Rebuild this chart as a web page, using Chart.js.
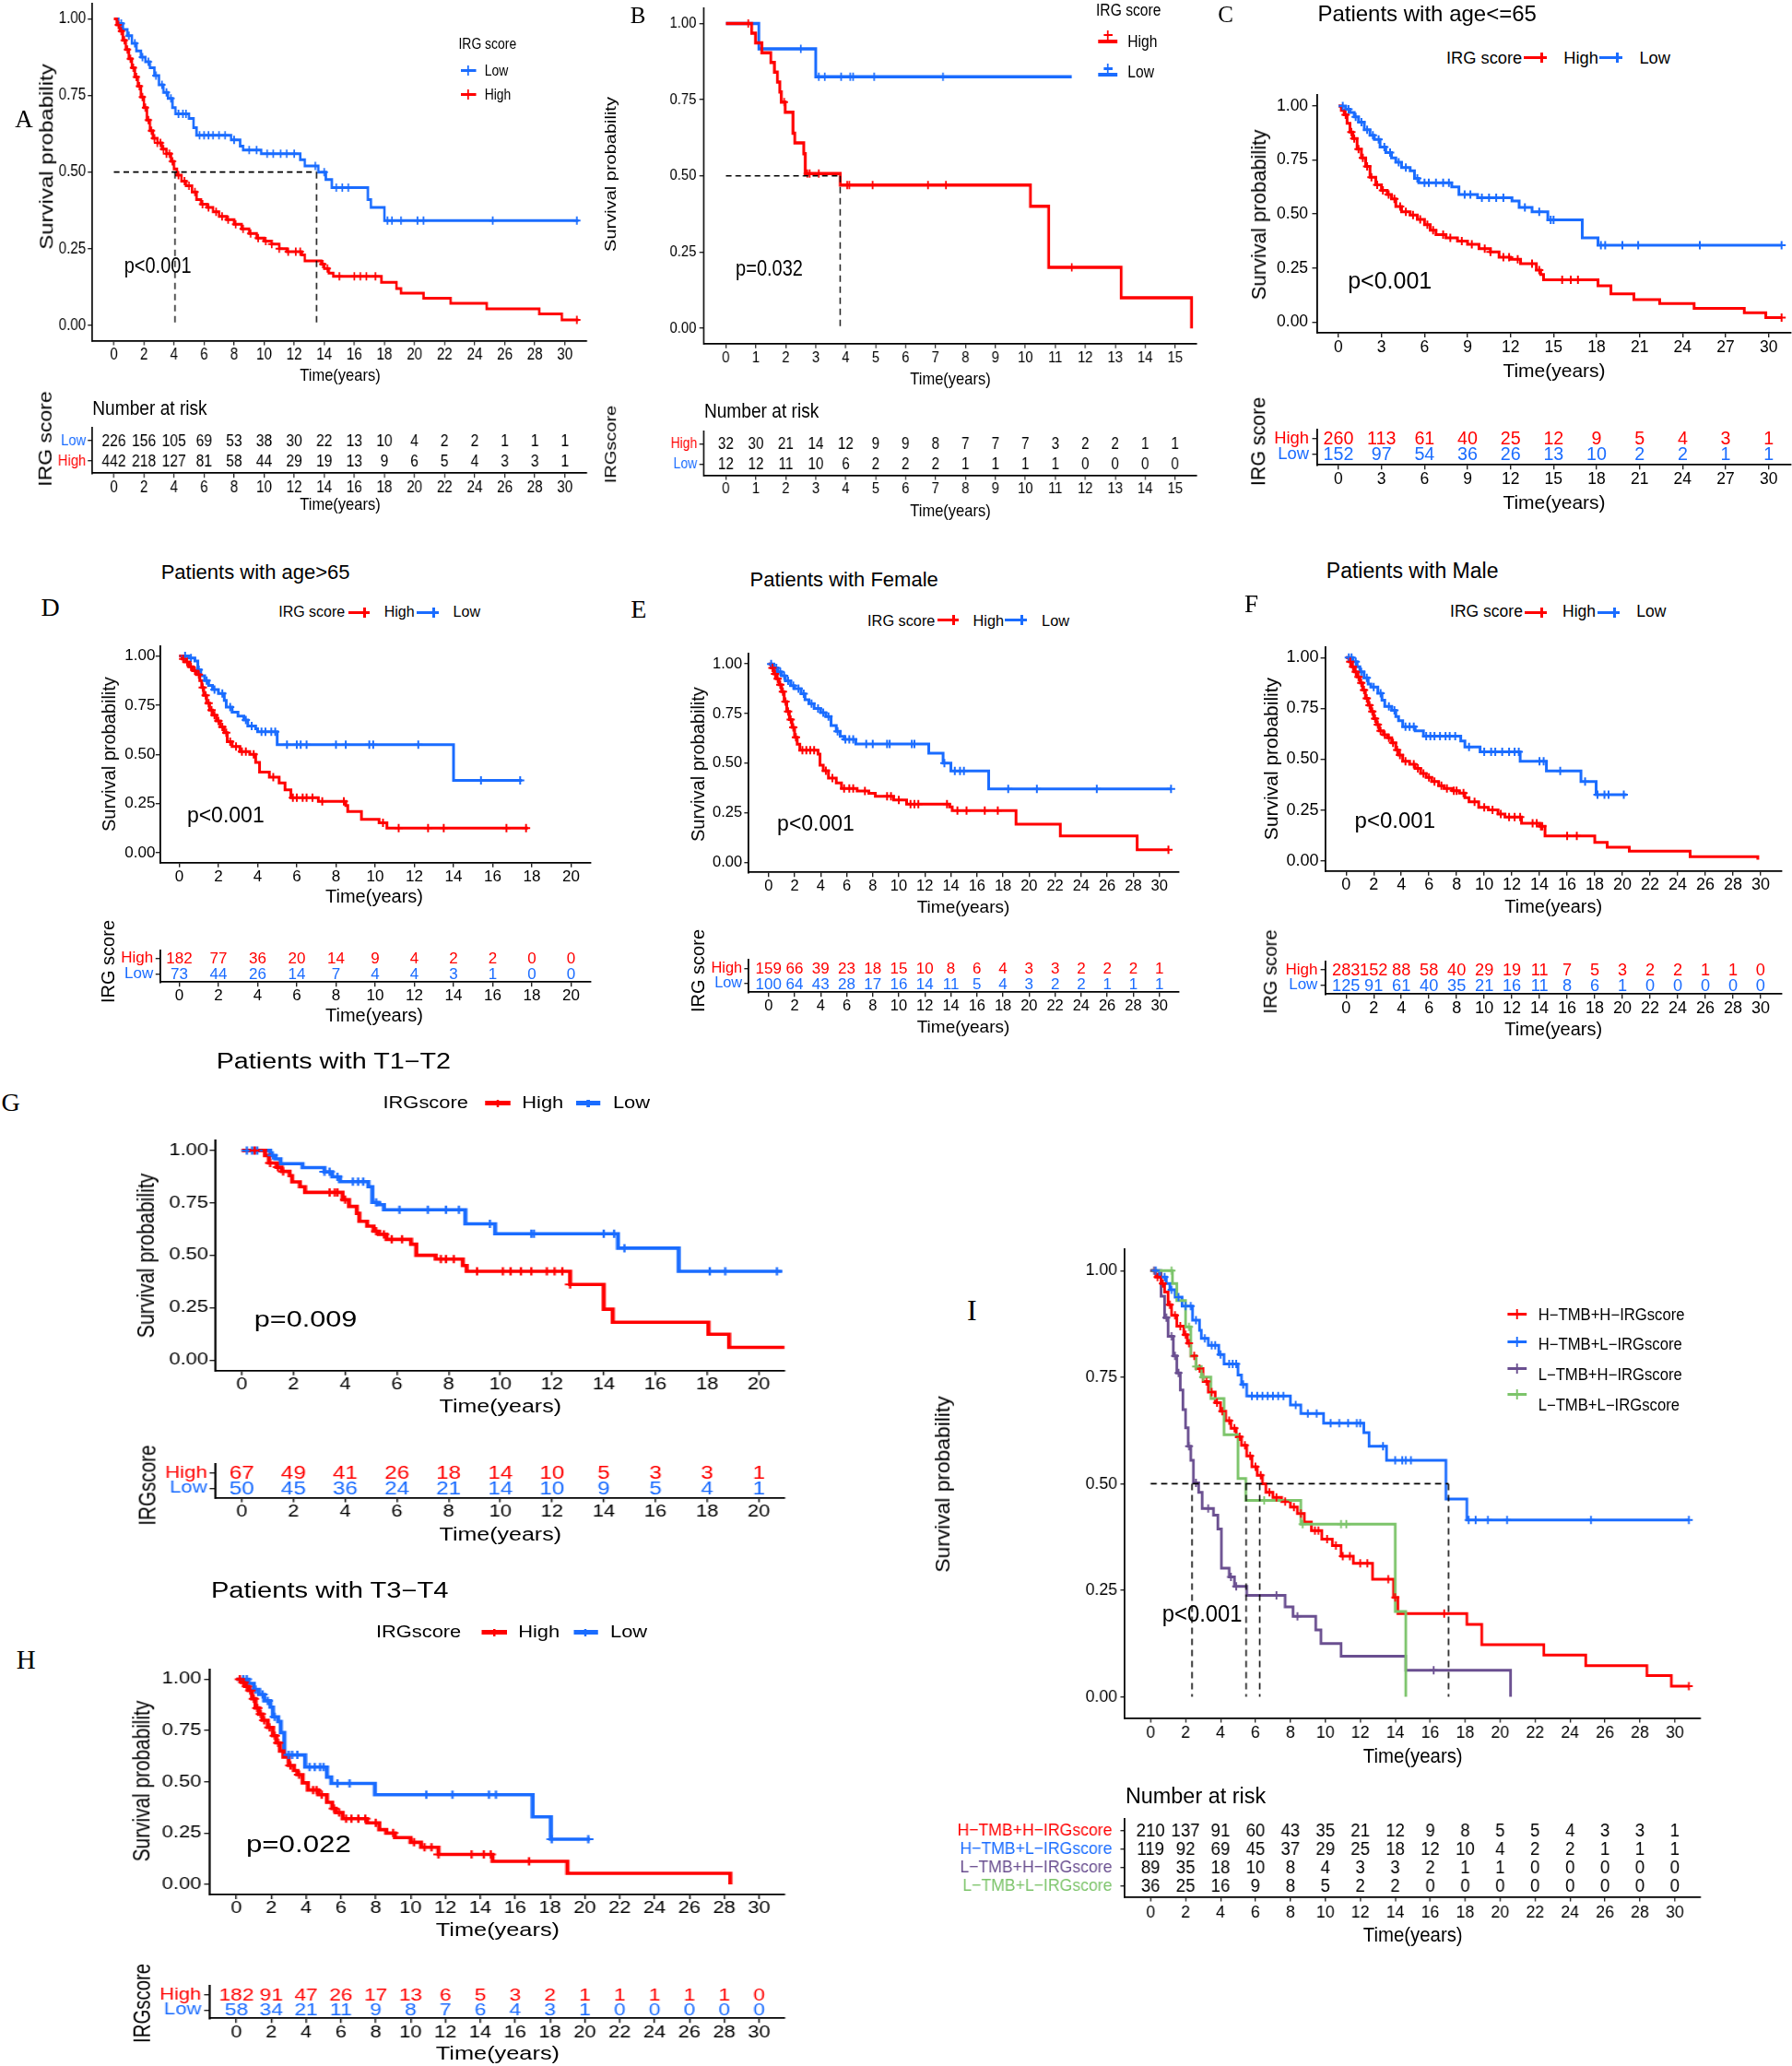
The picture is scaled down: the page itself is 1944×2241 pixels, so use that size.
<!DOCTYPE html>
<html><head><meta charset="utf-8">
<script src="https://cdn.jsdelivr.net/npm/chart.js@4.4.1/dist/chart.umd.min.js"></script>
<style>
html,body{margin:0;padding:0;background:#fff;}
body{width:1944px;height:2241px;position:relative;overflow:hidden;font-family:'Liberation Sans',Arial,sans-serif;}
.panel{position:absolute;top:0;width:1px;height:1px;transform-origin:0 0;}
.abs{position:absolute;white-space:nowrap;line-height:1;}
canvas{position:absolute;}
.bar{position:absolute;}
</style></head><body>
<script>
// ---------------- colours / fonts ----------------
const RED='#ff0000', BLUE='#1a6cff', PURPLE='#6a4f90', GREEN='#7cc46a';
const FONT="'Liberation Sans', Arial, sans-serif";
const SERIF="'Liberation Serif', 'Times New Roman', serif";

// ---------------- tick labels ----------------
const yTicks=[0,0.25,0.5,0.75,1];
const tk30by2=[0,2,4,6,8,10,12,14,16,18,20,22,24,26,28,30];
const tk15=[0,1,2,3,4,5,6,7,8,9,10,11,12,13,14,15];
const tk30by3=[0,3,6,9,12,15,18,21,24,27,30];
const tk20by2=[0,2,4,6,8,10,12,14,16,18,20];

// ---------------- Panel A ----------------
const kmA_high=[[0,1],[0.2,0.98],[0.4,0.96],[0.6,0.93],[0.8,0.9],[1.0,0.87],[1.2,0.84],[1.4,0.81],[1.6,0.78],[1.8,0.745],[2.0,0.71],[2.2,0.67],[2.4,0.635],[2.6,0.61],[2.9,0.595],[3.2,0.575],[3.5,0.56],[3.8,0.535],[4.0,0.51],[4.2,0.49],[4.5,0.47],[4.8,0.455],[5.2,0.435],[5.5,0.41],[5.8,0.395],[6.2,0.385],[6.6,0.37],[7.0,0.355],[7.5,0.345],[8.0,0.33],[8.5,0.315],[9.0,0.3],[9.5,0.285],[10.0,0.275],[10.5,0.265],[11.0,0.25],[11.5,0.24],[12.5,0.23],[12.7,0.21],[13.8,0.2],[14.0,0.185],[14.3,0.17],[14.6,0.16],[17.8,0.14],[18.8,0.12],[19.1,0.105],[20.6,0.088],[22.4,0.072],[24.8,0.054],[28.3,0.037],[29.8,0.018],[30.9,0.018]];
const censA_high=[0.3,0.5,0.7,0.9,1.1,1.3,1.5,1.7,1.9,2.1,2.3,2.5,2.7,2.9,3.1,3.3,3.5,3.7,3.9,4.3,4.7,5.0,5.4,5.9,6.3,6.8,7.2,7.6,8.1,8.6,9.1,9.6,10.1,10.5,11.0,11.6,12.1,12.4,13.9,14.2,15.0,16.0,16.4,16.8,17.4,30.8];
const kmA_low=[[0,1],[0.3,0.985],[0.6,0.965],[0.9,0.945],[1.2,0.92],[1.5,0.895],[1.8,0.875],[2.1,0.86],[2.4,0.84],[2.7,0.815],[3.0,0.785],[3.3,0.76],[3.6,0.74],[3.9,0.71],[4.1,0.69],[5.0,0.675],[5.3,0.645],[5.5,0.62],[7.8,0.605],[8.4,0.585],[8.6,0.572],[9.8,0.56],[12.4,0.54],[12.7,0.52],[13.6,0.5],[14.1,0.476],[14.5,0.449],[16.9,0.41],[17.1,0.385],[18.0,0.342],[30.9,0.342]];
const censA_low=[0.5,1.0,1.4,1.9,2.3,2.8,3.2,3.5,3.8,4.3,4.6,4.8,5.7,6.0,6.3,6.6,7.0,7.4,8.0,9.0,9.5,10.2,10.6,11.1,11.5,12.0,13.4,14.0,14.8,15.2,15.6,18.2,18.5,19.1,20.2,20.6,25.2,30.8];
const medA=[4.07,13.48];
const riskA_low=[226,156,105,69,53,38,30,22,13,10,4,2,2,1,1,1];
const riskA_high=[442,218,127,81,58,44,29,19,13,9,6,5,4,3,3,1];

// ---------------- Panel B ----------------
const kmB_high=[[0,1],[0.86,0.968],[0.99,0.936],[1.2,0.904],[1.5,0.872],[1.62,0.84],[1.72,0.808],[1.8,0.775],[1.85,0.742],[1.98,0.709],[2.24,0.64],[2.3,0.608],[2.6,0.573],[2.65,0.508],[3.82,0.47],[10.17,0.4],[10.78,0.2],[13.2,0.1],[15.55,0.0]];
const censB_high=[0.75,1.95,2.72,2.8,3.1,4.05,4.12,4.9,6.75,7.35,11.55];
const kmB_low=[[0,1],[1.1,0.917],[3.0,0.825],[11.55,0.825]];
const censB_low=[2.5,3.1,3.3,3.85,4.15,4.25,4.95,7.25];
const medB=[3.82];
const riskB_high=[32,30,21,14,12,9,9,8,7,7,7,3,2,2,1,1];
const riskB_low=[12,12,11,10,6,2,2,2,1,1,1,1,0,0,0,0];

// ---------------- Panel C ----------------
const kmC_high=[[0,1],[0.2,0.98],[0.4,0.96],[0.6,0.92],[0.8,0.88],[1.0,0.85],[1.3,0.8],[1.6,0.76],[1.9,0.72],[2.2,0.67],[2.6,0.635],[3.0,0.61],[3.4,0.59],[3.7,0.57],[4.0,0.535],[4.4,0.51],[5.0,0.495],[5.5,0.475],[6.0,0.45],[6.4,0.425],[6.8,0.405],[7.5,0.39],[8.3,0.375],[9.0,0.36],[9.8,0.34],[10.6,0.325],[11.2,0.3],[12.0,0.29],[12.7,0.27],[13.8,0.24],[14.1,0.22],[14.3,0.195],[18.1,0.168],[19.0,0.13],[20.6,0.104],[22.4,0.085],[24.8,0.063],[28.3,0.043],[29.8,0.02],[30.9,0.02]];
const censC_high=[0.5,0.9,1.1,1.4,1.7,2.0,2.3,2.7,3.1,3.5,3.9,4.3,4.7,5.2,5.7,6.2,6.6,7.3,7.8,8.6,9.3,10.2,10.6,11.5,11.9,12.5,13.5,14.0,15.6,16.2,16.7,30.9];
const kmC_low=[[0,1],[0.5,0.985],[0.8,0.97],[1.1,0.95],[1.4,0.925],[1.8,0.89],[2.2,0.865],[2.5,0.845],[2.9,0.81],[3.3,0.785],[3.7,0.76],[4.0,0.74],[4.4,0.715],[5.0,0.7],[5.3,0.665],[5.6,0.645],[7.9,0.625],[8.4,0.59],[9.7,0.575],[12.1,0.56],[12.6,0.53],[13.5,0.51],[14.6,0.473],[17.0,0.39],[18.1,0.355],[30.9,0.355]];
const censC_low=[0.3,0.7,1.2,1.6,2.0,2.4,2.8,3.2,3.6,4.2,4.7,5.5,6.0,6.3,6.8,7.3,7.7,8.8,9.2,10.0,10.5,11.0,11.5,13.0,14.0,14.8,15.0,18.3,18.6,19.8,20.9,25.2,30.9];
const riskC_high=[260,113,61,40,25,12,9,5,4,3,1];
const riskC_low=[152,97,54,36,26,13,10,2,2,1,1];

// ---------------- Panel D ----------------
const kmD_high=[[0,1],[0.15,0.985],[0.3,0.97],[0.5,0.945],[0.7,0.925],[0.9,0.905],[1.05,0.875],[1.15,0.84],[1.25,0.8],[1.4,0.76],[1.55,0.725],[1.7,0.7],[1.9,0.67],[2.1,0.64],[2.3,0.61],[2.45,0.565],[2.7,0.54],[3.1,0.515],[3.6,0.5],[3.9,0.46],[4.1,0.41],[4.6,0.385],[5.1,0.355],[5.4,0.32],[5.7,0.28],[7.1,0.262],[8.5,0.24],[8.6,0.21],[9.3,0.17],[10.2,0.153],[10.6,0.126],[17.8,0.126]];
const censD_high=[0.2,0.4,0.6,0.8,1.0,1.2,1.35,1.5,1.65,1.8,2.0,2.2,2.4,2.6,2.9,3.2,3.4,3.8,4.8,5.8,6.0,6.3,6.5,6.8,7.3,8.4,10.4,11.2,12.7,13.5,16.7,17.7];
const kmD_low=[[0,1],[0.5,0.99],[0.8,0.975],[0.95,0.93],[1.1,0.9],[1.3,0.875],[1.5,0.85],[1.7,0.83],[2.0,0.81],[2.3,0.775],[2.4,0.74],[2.7,0.715],[3.0,0.695],[3.3,0.675],[3.5,0.645],[3.9,0.63],[4.0,0.615],[5.0,0.55],[14.0,0.368],[17.5,0.368]];
const censD_low=[0.3,0.6,1.0,1.4,1.8,2.2,2.6,3.4,3.7,4.2,4.4,4.7,4.9,5.5,6.0,6.2,6.5,8.0,8.5,9.7,9.9,12.2,15.4,17.4];
const riskD_high=[182,77,36,20,14,9,4,2,2,0,0];
const riskD_low=[73,44,26,14,7,4,4,3,1,0,0];

// ---------------- Panel E ----------------
const kmE_high=[[0,1],[0.2,0.98],[0.4,0.95],[0.6,0.925],[0.8,0.895],[1.0,0.86],[1.2,0.81],[1.4,0.76],[1.6,0.72],[1.8,0.68],[2.0,0.63],[2.2,0.595],[2.4,0.565],[3.8,0.545],[3.95,0.49],[4.2,0.462],[4.6,0.425],[5.2,0.4],[5.6,0.373],[6.8,0.36],[7.7,0.348],[8.2,0.333],[9.6,0.315],[10.6,0.293],[13.9,0.28],[14.1,0.261],[19.0,0.192],[22.4,0.133],[28.3,0.064],[30.7,0.064]];
const censE_high=[0.3,0.5,0.7,0.9,1.1,1.3,1.5,1.7,1.9,2.1,2.6,2.9,3.2,3.5,4.4,4.9,5.8,6.2,6.5,7.4,9.1,9.4,10.0,10.9,11.2,11.5,13.7,14.5,15.2,16.6,17.6,30.7];
const kmE_low=[[0,1],[0.4,0.98],[0.7,0.96],[1.0,0.94],[1.3,0.915],[1.7,0.89],[2.0,0.875],[2.5,0.85],[2.8,0.82],[3.1,0.8],[3.5,0.775],[4.0,0.755],[4.4,0.735],[4.8,0.69],[5.2,0.66],[5.5,0.635],[5.8,0.62],[6.7,0.597],[12.3,0.55],[13.4,0.5],[14.0,0.461],[16.9,0.37],[30.9,0.37]];
const censE_low=[0.2,0.6,0.9,1.2,1.5,1.9,2.3,2.7,3.3,3.8,4.2,4.6,5.3,5.9,6.2,6.5,7.5,8.0,9.1,9.3,11.0,11.2,13.5,14.3,14.7,15.0,18.4,20.6,25.2,30.9];
const riskE_high=[159,66,39,23,18,15,10,8,6,4,3,3,2,2,2,1];
const riskE_low=[100,64,43,28,17,16,14,11,5,4,3,2,2,1,1,1];

// ---------------- Panel F ----------------
const kmF_high=[[0,1],[0.2,0.98],[0.4,0.955],[0.6,0.93],[0.8,0.905],[1.0,0.875],[1.2,0.84],[1.4,0.8],[1.6,0.765],[1.8,0.735],[2.0,0.7],[2.2,0.67],[2.4,0.64],[2.7,0.62],[3.0,0.605],[3.3,0.58],[3.6,0.545],[3.8,0.52],[4.1,0.49],[4.6,0.475],[5.0,0.455],[5.4,0.43],[5.8,0.41],[6.2,0.39],[6.7,0.37],[7.1,0.356],[7.7,0.345],[8.2,0.333],[8.6,0.31],[8.9,0.29],[9.6,0.263],[10.3,0.25],[11.0,0.23],[11.5,0.215],[12.7,0.185],[14.0,0.17],[14.4,0.122],[18.0,0.091],[18.9,0.067],[20.5,0.047],[24.9,0.02],[29.8,0.005]];
const censF_high=[0.3,0.5,0.7,0.9,1.1,1.3,1.5,1.7,1.9,2.1,2.3,2.5,2.8,3.1,3.4,3.7,3.9,4.3,4.9,5.2,5.6,6.0,6.4,6.9,7.3,7.8,8.0,8.5,9.3,10.0,10.6,11.2,11.8,12.2,12.6,13.5,13.8,14.1,14.2,16.0,16.7];
const kmF_low=[[0,1],[0.5,0.98],[0.8,0.955],[1.0,0.93],[1.3,0.9],[1.6,0.87],[1.8,0.855],[2.3,0.825],[2.6,0.79],[2.8,0.76],[3.3,0.74],[3.6,0.71],[3.8,0.69],[4.1,0.66],[5.0,0.64],[5.6,0.614],[8.3,0.59],[8.6,0.56],[9.7,0.536],[12.6,0.49],[14.5,0.442],[17.0,0.39],[18.1,0.325],[20.3,0.325]];
const censF_low=[0.2,0.4,0.7,1.1,1.5,2.0,2.5,3.1,3.5,4.3,4.6,4.9,5.8,6.1,6.4,6.8,7.2,7.5,7.9,8.9,10.0,10.5,10.8,11.3,11.8,12.2,12.5,14.0,14.3,15.5,17.3,18.2,18.7,19.0,20.1];
const riskF_high=[283,152,88,58,40,29,19,11,7,5,3,2,2,1,1,0];
const riskF_low=[125,91,61,40,35,21,16,11,8,6,1,0,0,0,0,0];

// ---------------- Panel G ----------------
const kmG_high=[[0,1],[0.9,0.976],[1.05,0.94],[1.35,0.92],[1.55,0.9],[1.85,0.88],[1.95,0.85],[2.25,0.827],[2.45,0.8],[3.9,0.765],[4.15,0.733],[4.45,0.7],[4.55,0.662],[4.85,0.639],[5.1,0.615],[5.3,0.6],[5.6,0.576],[6.55,0.553],[6.75,0.5],[7.5,0.482],[8.55,0.451],[8.7,0.424],[12.7,0.361],[14.0,0.243],[14.35,0.181],[18.05,0.124],[18.85,0.061],[21.0,0.061]];
const censG_high=[0.5,1.1,1.4,1.6,3.4,3.6,3.7,4.0,5.2,5.5,5.8,6.2,7.7,7.9,8.2,9.1,10.1,10.4,10.8,11.2,11.8,12.1,12.4,12.7];
const kmG_low=[[0,1],[1.1,0.976],[1.3,0.96],[1.5,0.937],[2.35,0.918],[3.2,0.898],[3.5,0.874],[3.8,0.851],[4.9,0.827],[5.05,0.752],[5.3,0.741],[5.5,0.717],[8.65,0.65],[9.8,0.603],[14.55,0.534],[16.9,0.424],[20.9,0.424]];
const censG_low=[0.2,0.4,0.6,1.2,3.2,3.4,3.7,4.3,4.5,4.7,5.2,6.1,7.2,7.9,8.4,9.6,11.2,11.3,14.0,14.4,14.8,18.1,18.7,20.7];
const riskG_high=[67,49,41,26,18,14,10,5,3,3,1];
const riskG_low=[50,45,36,24,21,14,10,9,5,4,1];

// ---------------- Panel H ----------------
const kmH_high=[[0,1],[0.3,0.985],[0.5,0.965],[0.7,0.945],[0.9,0.905],[1.1,0.86],[1.3,0.83],[1.5,0.8],[1.8,0.765],[2.1,0.725],[2.3,0.69],[2.5,0.65],[2.7,0.62],[3.0,0.58],[3.3,0.555],[3.5,0.535],[3.8,0.495],[4.1,0.46],[4.7,0.437],[5.2,0.4],[5.5,0.37],[5.7,0.35],[6.1,0.32],[7.5,0.3],[8.2,0.267],[8.6,0.25],[9.1,0.228],[10.0,0.205],[10.6,0.181],[11.6,0.146],[14.7,0.112],[19.0,0.054],[28.35,0.0]];
const censH_high=[0.2,0.4,0.6,0.8,1.0,1.2,1.4,1.6,1.9,2.2,2.4,3.1,3.6,4.4,4.6,4.9,5.6,5.9,6.3,6.6,7.0,7.4,8.0,9.0,10.2,10.8,11.2,11.6,13.5,14.2,14.6,16.8];
const kmH_low=[[0,1],[0.7,0.98],[1.0,0.95],[1.3,0.926],[1.6,0.895],[1.95,0.864],[2.1,0.817],[2.4,0.794],[2.55,0.74],[2.75,0.631],[3.95,0.572],[5.2,0.523],[5.45,0.492],[7.95,0.437],[17.0,0.329],[18.05,0.22],[20.3,0.22]];
const censH_low=[0.4,0.6,1.1,1.5,1.8,2.2,3.0,3.2,3.5,4.2,4.5,4.8,5.0,5.8,6.5,10.9,12.4,14.5,14.9,18.1,20.2];
const riskH_high=[182,91,47,26,17,13,6,5,3,2,1,1,1,1,1,0];
const riskH_low=[58,34,21,11,9,8,7,6,4,3,1,0,0,0,0,0];

// ---------------- Panel I ----------------
const kmI_hh=[[0,1],[0.3,0.985],[0.6,0.97],[0.8,0.95],[1.0,0.92],[1.2,0.895],[1.5,0.87],[1.9,0.85],[2.1,0.83],[2.3,0.8],[2.6,0.77],[3.0,0.74],[3.3,0.715],[3.7,0.69],[4.0,0.67],[4.3,0.648],[4.6,0.63],[4.9,0.61],[5.2,0.59],[5.5,0.565],[5.8,0.54],[6.1,0.52],[6.4,0.5],[6.6,0.48],[7.0,0.468],[7.5,0.458],[8.0,0.445],[8.4,0.43],[8.8,0.41],[9.2,0.39],[9.8,0.37],[10.4,0.355],[10.9,0.33],[11.6,0.313],[12.7,0.276],[13.9,0.233],[14.15,0.195],[18.1,0.17],[18.95,0.122],[22.5,0.098],[24.9,0.073],[28.4,0.05],[29.8,0.025],[30.8,0.025]];
const censI_hh=[0.4,0.7,1.1,1.4,1.7,2.0,2.2,2.5,2.8,3.2,3.5,3.8,4.1,4.5,4.8,5.1,5.4,5.7,6.0,6.3,6.8,7.2,7.7,8.2,8.6,9.4,9.6,10.1,10.6,11.0,11.4,12.0,12.4,13.6,14.0,16.8,30.8];
const kmI_hl=[[0,1],[0.5,0.985],[0.9,0.97],[1.1,0.955],[1.4,0.938],[1.8,0.917],[2.4,0.884],[2.8,0.86],[2.9,0.841],[3.3,0.825],[3.9,0.803],[4.2,0.781],[5.0,0.755],[5.2,0.733],[5.5,0.706],[8.0,0.685],[8.6,0.665],[9.9,0.642],[12.2,0.62],[12.5,0.588],[13.5,0.555],[16.9,0.464],[18.1,0.415],[30.8,0.415]];
const censI_hl=[0.3,0.8,1.2,1.6,2.0,2.3,2.6,3.1,3.5,3.7,4.0,4.5,4.7,4.9,5.3,5.8,6.1,6.4,6.7,7.0,7.3,7.6,8.3,9.0,9.5,10.3,10.8,11.3,11.8,12.0,13.3,14.0,14.4,14.6,14.9,18.2,18.6,19.3,20.4,25.2,30.8];
const kmI_lh=[[0,1],[0.6,0.94],[0.8,0.89],[1.0,0.846],[1.3,0.8],[1.5,0.76],[1.7,0.72],[1.85,0.674],[2.0,0.631],[2.15,0.588],[2.3,0.555],[2.45,0.502],[2.75,0.48],[2.95,0.442],[3.6,0.426],[3.85,0.394],[4.05,0.302],[4.5,0.281],[4.8,0.259],[5.5,0.238],[7.7,0.211],[8.15,0.189],[9.45,0.157],[9.75,0.125],[10.9,0.095],[14.6,0.062],[20.6,0.0]];
const censI_lh=[0.2,0.9,1.2,1.4,1.6,2.2,2.6,3.3,4.6,4.9,7.2,8.4,16.2];
const kmI_ll=[[0,1],[1.25,0.97],[1.5,0.93],[2.0,0.868],[2.3,0.8],[2.6,0.775],[2.9,0.75],[3.45,0.7],[4.2,0.615],[5.0,0.512],[5.45,0.461],[8.6,0.405],[14.0,0.2],[14.6,0.0]];
const censI_ll=[1.2,2.2,2.6,3.0,6.5,8.7,10.9,11.2];
const medI=[2.37,5.47,6.24,17.05];
const riskI_hh=[210,137,91,60,43,35,21,12,9,8,5,5,4,3,3,1];
const riskI_hl=[119,92,69,45,37,29,25,18,12,10,4,2,2,1,1,1];
const riskI_lh=[89,35,18,10,8,4,3,3,2,1,1,0,0,0,0,0];
const riskI_ll=[36,25,16,9,8,5,2,2,0,0,0,0,0,0,0,0];

// ================= helpers =================
function sAt(pts,t){let s=1;for(const [x,y] of pts){if(x<=t)s=y;else break;}return s;}
function medianDashes(meds){
  const segs=[[[0,0.5],[Math.max(...meds),0.5]]];
  meds.forEach(m=>segs.push([[m,0.5],[m,0]]));
  return segs;
}
function mkPanel(L,k){
  const d=document.createElement('div');d.className='panel';
  d.style.left=L+'px';d.style.transform='scaleX('+(1/k)+')';
  document.body.appendChild(d);
  return {el:d,L:L,k:k,X:xp=>(xp-L)*k};
}
function txt(p,s,xp,yp,o){
  o=o||{};
  const e=document.createElement('div');e.className='abs';e.textContent=s;
  e.style.fontSize=o.size+'px';e.style.color=o.color||'#000';
  e.style.fontFamily=o.family||FONT;
  e.style.left=(p?p.X(xp):xp)+'px';e.style.top=yp+'px';
  if(o.rot){e.style.transform='translate(-50%,-50%) rotate(-90deg)';}
  else{const ax=o.align==='center'?'-50%':(o.align==='right'?'-100%':'0');e.style.transform='translate('+ax+',-50%)';}
  (p?p.el:document.body).appendChild(e);
}
function bar(p,x,y,w,h,color){
  const b=document.createElement('div');b.className='bar';
  b.style.left=x+'px';b.style.top=y+'px';b.style.width=w+'px';b.style.height=h+'px';b.style.background=color;
  p.el.appendChild(b);
}
function key(p,x1,x2,ly,color,o){
  o=o||{};const lw=o.lw||3,ch=o.ch||11,cy=(o.cy!==undefined?o.cy:ly),fr=(o.fr!==undefined?o.fr:0.5);
  const a=p.X(x1),b=p.X(x2);
  bar(p,a,ly-lw/2,b-a,lw,color);
  const cx=a+(b-a)*fr;
  bar(p,cx-1.2,cy-ch/2,2.4,ch,color);
  if(cy!==ly) bar(p,cx-ch/2,cy-1.2,ch,2.4,color);
}
function mkCanvas(p,left,top,W,H){
  const cv=document.createElement('canvas');cv.width=W;cv.height=H;
  cv.style.left=left+'px';cv.style.top=top+'px';cv.style.width=W+'px';cv.style.height=H+'px';
  p.el.appendChild(cv);return cv;
}
function axisCommon(tick,pad,tl,cb){
  return {
    grid:{display:true,drawOnChartArea:false,drawTicks:true,tickLength:tl,color:'#222',lineWidth:1.4},
    border:{display:true,color:'#000',width:1.8},
    ticks:{autoSkip:false,maxRotation:0,minRotation:0,padding:pad,color:'#000',font:{family:FONT,size:tick},callback:cb}
  };
}
function km(p,c){
  const X0=p.X(c.x0),X1=p.X(c.x1);
  const left=Math.floor(X0-90),top=Math.floor(c.y0-10);
  const W=Math.ceil(X1+12)-left,H=Math.ceil(c.y1+45)-top;
  const yw=X0-left,padT=c.y0-top,padR=W-(X1-left),xh=H-(c.y1-top);
  const tl=5;
  const xpad=Math.max(0,c.xTickCY-c.y1-tl-0.6*c.tick);
  const ypad=Math.max(0,(c.x0-c.yTickRight)*p.k-tl);
  const ds=[];
  (c.dashes||[]).forEach(seg=>ds.push({data:seg.map(([x,y])=>({x,y})),borderColor:'#000',borderWidth:1.6,borderDash:[7,5],pointRadius:0,fill:false}));
  c.curves.forEach(cu=>ds.push({data:cu.cens.map(t=>({x:t,y:sAt(cu.pts,t)})),showLine:false,pointStyle:'cross',pointRadius:c.pr||4.5,pointBorderWidth:c.pbw||2,borderColor:cu.color,pointBorderColor:cu.color,backgroundColor:cu.color}));
  c.curves.forEach(cu=>ds.push({data:cu.pts.map(([x,y])=>({x,y})),stepped:true,borderColor:cu.color,borderWidth:c.lw||3,pointRadius:0,fill:false}));
  const xa=axisCommon(c.tick,xpad,tl,v=>String(v));
  const ya=axisCommon(c.tick,ypad,tl,v=>Number(v).toFixed(2));
  new Chart(mkCanvas(p,left,top,W,H),{type:'line',data:{datasets:ds},options:{
    responsive:false,devicePixelRatio:1,animation:false,events:[],
    layout:{padding:{left:0,top:padT,right:padR,bottom:0},autoPadding:false},
    plugins:{legend:{display:false},tooltip:{enabled:false}},
    scales:{
      x:Object.assign(xa,{type:'linear',bounds:'data',min:c.xmin,max:c.xmax,
        afterBuildTicks:s=>{s.ticks=c.xticks.map(v=>({value:v}));},
        afterFit:s=>{s.height=xh;s.paddingLeft=0;s.paddingRight=0;}}),
      y:Object.assign(ya,{type:'linear',bounds:'data',min:-0.05,max:1.05,
        afterBuildTicks:s=>{s.ticks=yTicks.map(v=>({value:v}));},
        afterFit:s=>{s.width=yw;s.paddingTop=0;s.paddingBottom=0;}})
    }}});
}
function risk(p,c){
  const X0=p.X(c.x0),X1=p.X(c.x1);
  const n=c.rows.length;
  const sp=(c.rowY[1]-c.rowY[0])/(n-1);
  const rmin=-(c.rowY[0]-c.y0)/sp,rmax=(n-1)+(c.y1-c.rowY[1])/sp;
  const left=Math.floor(X0-240),top=Math.floor(c.y0-6);
  const W=Math.ceil(X1+12)-left,H=Math.ceil(c.y1+40)-top;
  const yw=X0-left,padT=c.y0-top,padR=W-(X1-left),xh=H-(c.y1-top);
  const tl=5;
  const xpad=Math.max(0,c.xTickCY-c.y1-tl-0.6*c.tick);
  const ypad=Math.max(0,(c.x0-c.labRight)*p.k-tl);
  const ds=c.rows.map((r,i)=>({data:c.times.map(t=>({x:t,y:i})),showLine:false,pointRadius:0}));
  const numPlugin={id:'riskNums',afterDatasetsDraw(chart){
    const ctx=chart.ctx;ctx.save();ctx.font=c.num+'px '+FONT;ctx.textAlign='center';ctx.textBaseline='middle';
    c.rows.forEach((r,i)=>{const meta=chart.getDatasetMeta(i);
      meta.data.forEach((pt,j)=>{ctx.fillStyle=c.colored?r.color:'#000';ctx.fillText(String(r.values[j]),pt.x,pt.y+1);});});
    ctx.restore();}};
  const xa=axisCommon(c.tick,xpad,tl,v=>String(v));
  const ya=axisCommon(c.lab,ypad,tl,v=>c.rows[Math.round(v)]?c.rows[Math.round(v)].label:'');
  ya.ticks.color=ctx=>c.rows[ctx.index]?c.rows[ctx.index].color:'#000';
  new Chart(mkCanvas(p,left,top,W,H),{type:'scatter',data:{datasets:ds},plugins:[numPlugin],options:{
    responsive:false,devicePixelRatio:1,animation:false,events:[],
    layout:{padding:{left:0,top:padT,right:padR,bottom:0},autoPadding:false},
    plugins:{legend:{display:false},tooltip:{enabled:false}},
    scales:{
      x:Object.assign(xa,{type:'linear',bounds:'data',min:c.xmin,max:c.xmax,
        afterBuildTicks:s=>{s.ticks=c.xticks.map(v=>({value:v}));},
        afterFit:s=>{s.height=xh;s.paddingLeft=0;s.paddingRight=0;}}),
      y:Object.assign(ya,{type:'linear',bounds:'data',reverse:true,min:rmin,max:rmax,
        afterBuildTicks:s=>{s.ticks=c.rows.map((r,i)=>({value:i}));},
        afterFit:s=>{s.width=yw;s.paddingTop=0;s.paddingBottom=0;}})
    }}});
}

// ================= Panel A =================
(function(){
  const p=mkPanel(0,1.15);
  km(p,{x0:99.5,x1:636.4,y0:3.8,y1:369.5,xmin:-1.47,xmax:31.45,xticks:tk30by2,tick:17.5,xTickCY:384,yTickRight:93.3,lw:3,
    dashes:medianDashes(medA),
    curves:[{pts:kmA_high,cens:censA_high,color:RED},{pts:kmA_low,cens:censA_low,color:BLUE}]});
  txt(p,'Survival probability',50.6,170,{size:24,rot:true});
  txt(p,'Time(years)',369,406,{size:19,align:'center'});
  txt(p,'IRG score',497.5,48.2,{size:16});
  key(p,499.6,516.2,76.8,BLUE);txt(p,'Low',525.7,76.8,{size:16});
  key(p,499.6,516.2,102.5,RED);txt(p,'High',525.7,102.5,{size:16});
  txt(p,'p<0.001',134.7,287.5,{size:23});
  txt(p,'Number at risk',100.3,442.9,{size:22});
  risk(p,{x0:99.5,x1:636.4,y0:464.3,y1:513.2,rowY:[477.9,500],xmin:-1.47,xmax:31.45,xticks:tk30by2,times:tk30by2,tick:17.5,xTickCY:526.8,labRight:93.3,lab:17,num:18,colored:false,
    rows:[{label:'Low',color:BLUE,values:riskA_low},{label:'High',color:RED,values:riskA_high}]});
  txt(p,'Time(years)',369,546.4,{size:19,align:'center'});
  txt(p,'IRG score',49.8,476,{size:23,rot:true});
})();

// ================= Panel B =================
(function(){
  const p=mkPanel(640,1.15);
  km(p,{x0:763.1,x1:1298.1,y0:8.9,y1:372.7,xmin:-0.75,xmax:15.72,xticks:tk15,tick:17,xTickCY:387.1,yTickRight:755.4,lw:3.5,
    dashes:medianDashes(medB),
    curves:[{pts:kmB_high,cens:censB_high,color:RED},{pts:kmB_low,cens:censB_low,color:BLUE}]});
  txt(p,'Survival probability',661.4,189,{size:20,rot:true});
  txt(p,'Time(years)',1031,409.7,{size:19,align:'center'});
  txt(p,'IRG score',1189,10.9,{size:18});
  key(p,1191.3,1212.6,44.5,RED,{cy:38,lw:4,ch:11});txt(p,'High',1223.3,45.4,{size:18});
  key(p,1191.3,1212.6,80.7,BLUE,{cy:74.5,lw:4,ch:11});txt(p,'Low',1223.3,78.2,{size:18});
  txt(p,'p=0.032',798.1,290.8,{size:23});
  txt(p,'Number at risk',763.9,446.4,{size:22});
  risk(p,{x0:763.1,x1:1298.1,y0:468.2,y1:515.5,rowY:[481.6,503.5],xmin:-0.75,xmax:15.72,xticks:tk15,times:tk15,tick:17,xTickCY:530.7,labRight:756.2,lab:16,num:17.5,colored:false,
    rows:[{label:'High',color:RED,values:riskB_high},{label:'Low',color:BLUE,values:riskB_low}]});
  txt(p,'Time(years)',1031,552.5,{size:19,align:'center'});
  txt(p,'IRGscore',661.4,481.6,{size:20,rot:true});
})();

// ================= Panel C =================
(function(){
  const p=mkPanel(1300,1.0);
  km(p,{x0:1428.5,x1:1942.5,y0:103.3,y1:361,xmin:-1.51,xmax:31.53,xticks:tk30by3,tick:17.5,xTickCY:376.8,yTickRight:1419.1,lw:3,
    curves:[{pts:kmC_high,cens:censC_high,color:RED},{pts:kmC_low,cens:censC_low,color:BLUE}]});
  txt(p,'Patients with age<=65',1429.4,15,{size:24});
  txt(p,'IRG score',1569,62.5,{size:18.3});
  key(p,1653.2,1677.8,62.5,RED,{fr:0.78});txt(p,'High',1696.3,62.5,{size:18.3});
  key(p,1735.3,1760,62.5,BLUE,{fr:0.78});txt(p,'Low',1778.4,62.5,{size:18.3});
  txt(p,'Survival probability',1365.7,233,{size:22,rot:true});
  txt(p,'Time(years)',1686,400.7,{size:21,align:'center'});
  txt(p,'p<0.001',1462.2,303.6,{size:25});
  risk(p,{x0:1428.5,x1:1942.5,y0:466,y1:504.3,rowY:[476,492.9],xmin:-1.51,xmax:31.53,xticks:tk30by3,times:tk30by3,tick:17.5,xTickCY:519.6,labRight:1420,lab:18.4,num:19.7,colored:true,
    rows:[{label:'High',color:RED,values:riskC_high},{label:'Low',color:BLUE,values:riskC_low}]});
  txt(p,'Time(years)',1686,543.6,{size:21,align:'center'});
  txt(p,'IRG score',1365.7,478.6,{size:21.4,rot:true});
})();

// ================= Panel D =================
(function(){
  const p=mkPanel(0,1.0);
  km(p,{x0:173.8,x1:640.6,y0:700.9,y1:935.8,xmin:-0.97,xmax:20.99,xticks:tk20by2,tick:17,xTickCY:949.9,yTickRight:168.4,lw:3,
    curves:[{pts:kmD_high,cens:censD_high,color:RED},{pts:kmD_low,cens:censD_low,color:BLUE}]});
  txt(p,'Patients with age>65',174.7,621,{size:22});
  txt(p,'IRG score',302.2,664,{size:16});
  key(p,377.5,400.7,664,RED,{fr:0.78});txt(p,'High',416.7,664,{size:16});
  key(p,452.4,475.6,664,BLUE,{fr:0.78});txt(p,'Low',491.6,664,{size:16});
  txt(p,'Survival probability',117.8,818,{size:20,rot:true});
  txt(p,'Time(years)',406,972.2,{size:20,align:'center'});
  txt(p,'p<0.001',202.9,884.4,{size:23});
  risk(p,{x0:173.8,x1:640.6,y0:1030.8,y1:1065.2,rowY:[1039.4,1056.6],xmin:-0.97,xmax:20.99,xticks:tk20by2,times:tk20by2,tick:17,xTickCY:1079,labRight:166.2,lab:17,num:17,colored:true,
    rows:[{label:'High',color:RED,values:riskD_high},{label:'Low',color:BLUE,values:riskD_low}]});
  txt(p,'Time(years)',406,1101.4,{size:20,align:'center'});
  txt(p,'IRG score',117,1042.8,{size:20,rot:true});
})();

// ================= Panel E =================
(function(){
  const p=mkPanel(660,1.0);
  km(p,{x0:812.4,x1:1278.7,y0:709.4,y1:946.2,xmin:-1.51,xmax:31.49,xticks:tk30by2,tick:16.5,xTickCY:960.2,yTickRight:805.2,lw:3,
    curves:[{pts:kmE_high,cens:censE_high,color:RED},{pts:kmE_low,cens:censE_low,color:BLUE}]});
  txt(p,'Patients with Female',813.6,628.6,{size:22});
  txt(p,'IRG score',941.1,672.6,{size:16.3});
  key(p,1016.5,1039.6,672.6,RED,{fr:0.78});txt(p,'High',1055.6,672.6,{size:16.3});
  key(p,1090.1,1113.7,672.6,BLUE,{fr:0.78});txt(p,'Low',1130.1,672.6,{size:16.3});
  txt(p,'Survival probability',756.8,828.6,{size:20,rot:true});
  txt(p,'Time(years)',1045,982.6,{size:19,align:'center'});
  txt(p,'p<0.001',843.1,893,{size:23});
  risk(p,{x0:812.4,x1:1278.7,y0:1041.1,y1:1076.2,rowY:[1050.4,1066.9],xmin:-1.51,xmax:31.49,xticks:tk30by2,times:tk30by2,tick:16.5,xTickCY:1090,labRight:805.2,lab:16.4,num:17,colored:true,
    rows:[{label:'High',color:RED,values:riskE_high},{label:'Low',color:BLUE,values:riskE_low}]});
  txt(p,'Time(years)',1045,1113.4,{size:19,align:'center'});
  txt(p,'IRG score',756.8,1053,{size:20,rot:true});
})();

// ================= Panel F =================
(function(){
  const p=mkPanel(1300,1.0);
  km(p,{x0:1437.6,x1:1932.4,y0:702.3,y1:944.7,xmin:-1.51,xmax:31.5,xticks:tk30by2,tick:18,xTickCY:959.1,yTickRight:1430.6,lw:3,
    curves:[{pts:kmF_high,cens:censF_high,color:RED},{pts:kmF_low,cens:censF_low,color:BLUE}]});
  txt(p,'Patients with Male',1438.8,619.3,{size:23});
  txt(p,'IRG score',1573.1,664,{size:17.5});
  key(p,1654,1677.8,664,RED,{fr:0.78});txt(p,'High',1695.1,664,{size:17.5});
  key(p,1733.3,1756.7,664,BLUE,{fr:0.78});txt(p,'Low',1775.2,664,{size:17.5});
  txt(p,'Survival probability',1378,823.2,{size:21,rot:true});
  txt(p,'Time(years)',1685.2,982.6,{size:20,align:'center'});
  txt(p,'p<0.001',1469.6,889.6,{size:24});
  risk(p,{x0:1437.6,x1:1932.4,y0:1042.8,y1:1078.3,rowY:[1052.1,1068.7],xmin:-1.51,xmax:31.5,xticks:tk30by2,times:tk30by2,tick:18,xTickCY:1093.4,labRight:1429.4,lab:17,num:18.2,colored:true,
    rows:[{label:'High',color:RED,values:riskF_high},{label:'Low',color:BLUE,values:riskF_low}]});
  txt(p,'Time(years)',1685.2,1115.8,{size:20,align:'center'});
  txt(p,'IRG score',1378,1054,{size:20.3,rot:true});
})();

// ================= Panel G =================
(function(){
  const p=mkPanel(0,0.8);
  km(p,{x0:233.6,x1:851,y0:1236.5,y1:1486.8,xmin:-1.02,xmax:20.99,xticks:tk20by2,tick:17.5,xTickCY:1502.1,yTickRight:225.9,lw:3.6,
    curves:[{pts:kmG_high,cens:censG_high,color:RED},{pts:kmG_low,cens:censG_low,color:BLUE}]});
  txt(p,'Patients with T1\u2212T2',234.7,1151.4,{size:23});
  txt(p,'IRGscore',415.5,1196.8,{size:17.5});
  key(p,526.4,553.4,1196.8,RED,{lw:5,ch:8});txt(p,'High',566.3,1196.8,{size:17.5});
  key(p,625,651.4,1196.8,BLUE,{lw:5,ch:8});txt(p,'Low',664.9,1196.8,{size:17.5});
  txt(p,'Survival probability',158.5,1362,{size:21.3,rot:true});
  txt(p,'Time(years)',542.8,1524.6,{size:20,align:'center'});
  txt(p,'p=0.009',275.8,1431,{size:24.5});
  risk(p,{x0:233.6,x1:851,y0:1587.9,y1:1624.6,rowY:[1597.9,1614.6],xmin:-1.02,xmax:20.99,xticks:tk20by2,times:tk20by2,tick:17.5,xTickCY:1640,labRight:224.8,lab:17.8,num:19.4,colored:true,
    rows:[{label:'High',color:RED,values:riskG_high},{label:'Low',color:BLUE,values:riskG_low}]});
  txt(p,'Time(years)',542.8,1663.9,{size:20,align:'center'});
  txt(p,'IRGscore',159.6,1611.3,{size:20.7,rot:true});
})();

// ================= Panel H =================
(function(){
  const p=mkPanel(0,0.8);
  km(p,{x0:227.7,x1:851,y0:1810.4,y1:2055.1,xmin:-1.52,xmax:31.46,xticks:tk30by2,tick:17.5,xTickCY:2069.9,yTickRight:218.3,lw:3.6,
    curves:[{pts:kmH_high,cens:censH_high,color:RED},{pts:kmH_low,cens:censH_low,color:BLUE}]});
  txt(p,'Patients with T3\u2212T4',228.9,1725.9,{size:23.3});
  txt(p,'IRGscore',407.9,1770.7,{size:17.5});
  key(p,522.3,549.9,1770.7,RED,{lw:5,ch:8});txt(p,'High',562.2,1770.7,{size:17.5});
  key(p,622,648.5,1770.7,BLUE,{lw:5,ch:8});txt(p,'Low',662,1770.7,{size:17.5});
  txt(p,'Survival probability',153.8,1932,{size:20.8,rot:true});
  txt(p,'Time(years)',539.9,2092.7,{size:20.3,align:'center'});
  txt(p,'p=0.022',267,2000.2,{size:25});
  risk(p,{x0:227.7,x1:851,y0:2153.8,y1:2189.3,rowY:[2164.1,2180.3],xmin:-1.52,xmax:31.46,xticks:tk30by2,times:tk30by2,tick:17.5,xTickCY:2205.5,labRight:218.3,lab:17.6,num:18.3,colored:true,
    rows:[{label:'High',color:RED,values:riskH_high},{label:'Low',color:BLUE,values:riskH_low}]});
  txt(p,'Time(years)',539.9,2227.3,{size:20.3,align:'center'});
  txt(p,'IRGscore',153.8,2172.7,{size:20.4,rot:true});
})();

// ================= Panel I =================
(function(){
  const p=mkPanel(1000,1.05);
  km(p,{x0:1220.3,x1:1844.6,y0:1355.2,y1:1863.6,xmin:-1.47,xmax:31.46,xticks:tk30by2,tick:18.6,xTickCY:1879.8,yTickRight:1212,lw:3,
    dashes:medianDashes(medI),
    curves:[{pts:kmI_ll,cens:censI_ll,color:GREEN},{pts:kmI_hh,cens:censI_hh,color:RED},{pts:kmI_hl,cens:censI_hl,color:BLUE},{pts:kmI_lh,cens:censI_lh,color:PURPLE}]});
  txt(p,'Survival probability',1023.3,1610,{size:22.8,rot:true});
  txt(p,'Time(years)',1532.7,1906.2,{size:21.4,align:'center'});
  key(p,1635.4,1655.9,1425.6,RED);txt(p,'H\u2212TMB+H\u2212IRGscore',1668.7,1427.1,{size:17.5});
  key(p,1635.4,1655.9,1455.4,BLUE);txt(p,'H\u2212TMB+L\u2212IRGscore',1668.7,1459.4,{size:17.5});
  key(p,1635.4,1655.9,1484.3,PURPLE);txt(p,'L\u2212TMB+H\u2212IRGscore',1668.7,1491.7,{size:17.5});
  key(p,1635.4,1655.9,1512.6,GREEN);txt(p,'L\u2212TMB+L\u2212IRGscore',1668.7,1525.1,{size:17.5});
  txt(p,'p<0.001',1260.8,1749.5,{size:25});
  txt(p,'Number at risk',1220.9,1948,{size:24.6});
  risk(p,{x0:1220.3,x1:1844.6,y0:1972.8,y1:2057.4,rowY:[1985.8,2045.5],xmin:-1.47,xmax:31.46,xticks:tk30by2,times:tk30by2,tick:18.6,xTickCY:2075.3,labRight:1206.4,lab:18.5,num:19.5,colored:false,
    rows:[{label:'H\u2212TMB+H\u2212IRGscore',color:RED,values:riskI_hh},{label:'H\u2212TMB+L\u2212IRGscore',color:BLUE,values:riskI_hl},
          {label:'L\u2212TMB+H\u2212IRGscore',color:PURPLE,values:riskI_lh},{label:'L\u2212TMB+L\u2212IRGscore',color:GREEN,values:riskI_ll}]});
  txt(p,'Time(years)',1532.7,2100.2,{size:21.4,align:'center'});
})();

// ================= panel letters =================
txt(null,'A',25.9,128.6,{size:27,family:SERIF,align:'center'});
txt(null,'B',692.1,16.4,{size:25,family:SERIF,align:'center'});
txt(null,'C',1329.6,15,{size:25,family:SERIF,align:'center'});
txt(null,'D',54.7,658.9,{size:28,family:SERIF,align:'center'});
txt(null,'E',692.8,660.6,{size:28,family:SERIF,align:'center'});
txt(null,'F',1357.5,655.4,{size:27,family:SERIF,align:'center'});
txt(null,'G',11.7,1196,{size:28,family:SERIF,align:'center'});
txt(null,'H',28.2,1800.1,{size:29,family:SERIF,align:'center'});
txt(null,'I',1054.4,1420.6,{size:32,family:SERIF,align:'center'});
</script>
</body></html>
